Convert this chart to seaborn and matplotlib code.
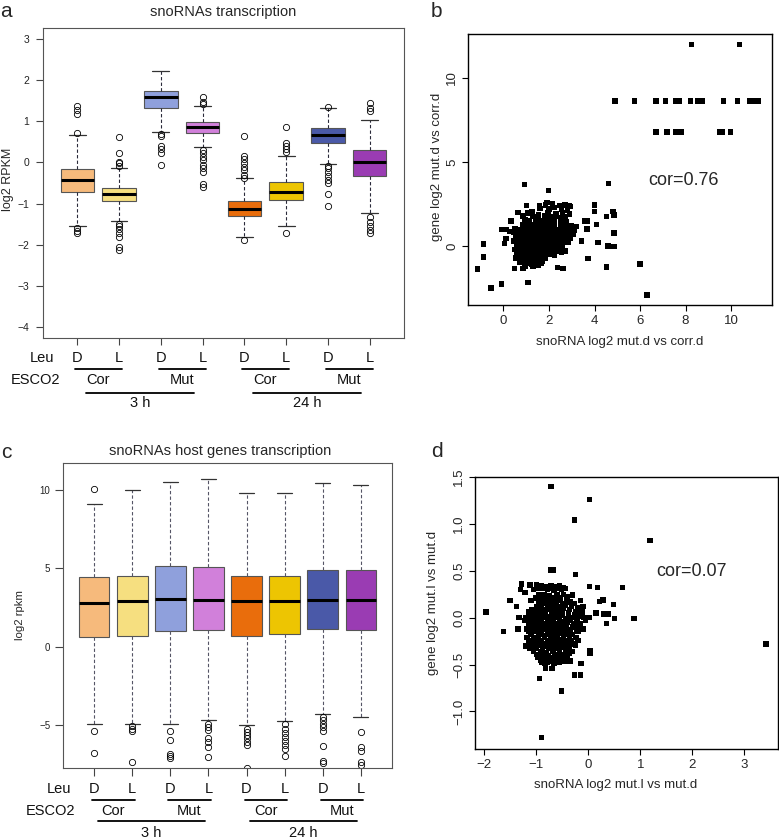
"""
snoRNA / host gene transcription figure (panels a-d).
Box plots are drawn from summary statistics read off the figure,
scatter panels from hand-read point positions.
"""
import matplotlib
matplotlib.use("Agg")
import matplotlib.pyplot as plt
import matplotlib.transforms as mtransforms
import seaborn as sns
import pandas as pd

sns.set_theme(style="ticks")
plt.rcParams["font.family"] = ["Liberation Sans", "DejaVu Sans"]

W, H = 779, 839

# ── shared box plot layout ──────────────────────────────────────────────
LEU = ["D", "L", "D", "L", "D", "L", "D", "L"]
ESCO2 = ["Cor", "Mut", "Cor", "Mut"]
TIMES = ["3 h", "24 h"]
BOX_COLORS = ["#F6BA7C", "#F6DF80", "#8FA0DC", "#D180DA",
              "#E96D0C", "#EDC502", "#4A59A8", "#9A3CB3"]

# ── panel a: snoRNAs transcription (log2 RPKM) ──────────────────────────
A_MED = [-0.43, -0.77, 1.59, 0.87, -1.13, -0.71, 0.67, 0.00]
A_Q1 = [-0.73, -0.94, 1.34, 0.73, -1.31, -0.91, 0.47, -0.34]
A_Q3 = [-0.17, -0.61, 1.74, 0.99, -0.93, -0.47, 0.83, 0.30]
A_WLO = [-1.55, -1.43, 0.75, 0.37, -1.82, -1.55, -0.03, -1.24]
A_WHI = [0.67, -0.13, 2.22, 1.37, -0.39, 0.16, 1.32, 1.03]
A_FLIERS = [
    [1.38, 1.29, 1.19, 0.73, -1.60, -1.66, -1.72],
    [0.63, 0.23, 0.02, -0.02, -0.08, -1.50, -1.56, -1.63, -1.71, -1.82, -2.05, -2.13],
    [0.69, 0.64, 0.40, 0.32, 0.22, -0.06],
    [1.59, 1.48, 1.42, 0.30, 0.22, 0.14, 0.06, -0.06, -0.14, -0.22, -0.52, -0.59],
    [0.65, 0.16, 0.08, -0.02, -0.10, -0.18, -0.30, -0.37, -1.90],
    [0.87, 0.47, 0.41, 0.34, 0.26, -1.72],
    [1.36, -0.08, -0.14, -0.22, -0.33, -0.43, -0.51, -0.77, -1.06],
    [1.46, 1.32, 1.26, -1.32, -1.44, -1.56, -1.65, -1.71],
]
A_YTICKS = [-4, -3, -2, -1, 0, 1, 2, 3]

# ── panel c: snoRNAs host genes transcription (log2 rpkm) ───────────────
C_MED = [2.79, 2.91, 3.02, 2.98, 2.89, 2.89, 2.94, 2.98]
C_Q1 = [0.64, 0.69, 1.00, 1.09, 0.71, 0.81, 1.13, 1.09]
C_Q3 = [4.44, 4.53, 5.14, 5.06, 4.53, 4.48, 4.89, 4.89]
C_WLO = [-4.90, -4.94, -4.94, -4.64, -5.00, -4.71, -4.30, -4.49]
C_WHI = [9.11, 9.96, 10.51, 10.65, 9.81, 9.79, 10.42, 10.32]
C_FLIERS = [
    [10.04, -5.38, -6.74],
    [-5.06, -5.21, -5.36, -7.31],
    [-5.38, -5.95, -6.80, -6.97, -7.10],
    [-4.94, -5.11, -5.32, -5.84, -6.06, -6.37, -7.01],
    [-5.21, -5.42, -5.64, -5.84, -6.06, -6.27, -7.70],
    [-4.94, -5.21, -5.49, -5.74, -6.00, -6.27, -6.49, -6.97],
    [-4.47, -4.68, -4.90, -5.11, -5.36, -6.33, -7.27, -7.39],
    [-5.42, -6.37, -6.62, -7.33, -7.54],
]
C_YTICKS = [-5, 0, 5, 10]

# ── panel b: snoRNA vs gene, mut.d vs corr.d ────────────────────────────
B_TOP = [(8.25, 12.0), (10.38, 12.0),
         (4.90, 8.63), (5.76, 8.63), (6.70, 8.63), (7.11, 8.63), (7.55, 8.63),
         (7.74, 8.63), (8.21, 8.63), (8.53, 8.63), (8.75, 8.63), (9.68, 8.63),
         (10.29, 8.63), (10.81, 8.63), (11.04, 8.63), (11.22, 8.63),
         (6.70, 6.79), (7.18, 6.79), (7.55, 6.79), (7.80, 6.79), (9.50, 6.79),
         (9.63, 6.79), (9.97, 6.79)]
B_SPREAD = [(0.93, 3.68), (1.98, 3.31), (4.61, 3.72), (6.30, -2.91), (6.00, -1.07),
            (4.52, -1.23), (3.71, -0.73), (-1.13, -1.36), (-0.87, 0.12), (-0.87, -0.64),
            (-0.55, -2.50), (-0.10, -2.26), (1.07, -2.18), (4.86, 0.79), (4.81, 2.06),
            (4.86, 1.86), (4.00, 2.45), (4.00, 2.06), (4.08, 1.27), (4.15, 0.20),
            (4.60, 0.00), (4.86, -0.04), (4.52, 1.76), (3.57, 1.50), (3.70, 1.50),
            (3.67, 1.01), (3.42, 0.31), (2.89, 2.40), (2.36, -1.27), (2.61, -1.33),
            (-0.10, 0.97), (0.11, 0.97), (0.26, 0.87), (0.04, 0.16), (0.11, 0.46),
            (0.33, 1.50), (0.63, 2.00), (1.07, 1.96), (1.00, 2.42), (1.58, 2.42),
            (1.92, 2.61), (0.48, -1.33), (0.85, -1.33), (0.70, -0.93), (1.22, -1.07),
            (1.66, -1.03), (1.48, -0.64), (2.54, -0.34)]
B_CLOUD = [
    (1.85, 2.45), (2.15, 2.50), (2.45, 2.40), (2.70, 2.45), (2.95, 2.35),
    (1.60, 2.25), (2.00, 2.20), (2.25, 2.30), (2.55, 2.20), (2.80, 2.15),
    (1.95, 2.00), (2.30, 1.95), (2.60, 2.00), (2.90, 1.90), (1.25, 2.05),
    (0.85, 1.80), (1.30, 1.75), (1.55, 1.85), (1.80, 1.80), (2.05, 1.75),
    (2.30, 1.80), (2.50, 1.70), (2.70, 1.75),
    (0.95, 1.55), (1.15, 1.50), (1.40, 1.55), (1.60, 1.50), (1.85, 1.55),
    (2.05, 1.50), (2.25, 1.55), (2.50, 1.50), (2.75, 1.45),
    (0.85, 1.30), (1.05, 1.30), (1.25, 1.25), (1.45, 1.30), (1.65, 1.30),
    (1.85, 1.25), (2.05, 1.30), (2.25, 1.30), (2.50, 1.25), (2.75, 1.30),
    (3.00, 1.20), (3.20, 1.15),
    (0.50, 1.05), (0.70, 1.00), (0.90, 1.05), (1.10, 1.05), (1.30, 1.00),
    (1.50, 1.05), (1.70, 1.05), (1.90, 1.00), (2.10, 1.05), (2.30, 1.00),
    (2.50, 1.05), (2.70, 1.00), (2.90, 1.05), (3.10, 0.95),
    (0.45, 0.80), (0.65, 0.80), (0.85, 0.75), (1.05, 0.80), (1.25, 0.80),
    (1.45, 0.75), (1.65, 0.80), (1.85, 0.80), (2.05, 0.75), (2.25, 0.80),
    (2.45, 0.80), (2.65, 0.75), (2.85, 0.75), (3.05, 0.70),
    (0.55, 0.55), (0.75, 0.55), (0.95, 0.50), (1.15, 0.55), (1.35, 0.55),
    (1.55, 0.50), (1.75, 0.55), (1.95, 0.55), (2.15, 0.50), (2.35, 0.55),
    (2.55, 0.50), (2.75, 0.50), (2.95, 0.45),
    (0.45, 0.30), (0.65, 0.30), (0.85, 0.25), (1.05, 0.30), (1.25, 0.30),
    (1.45, 0.25), (1.65, 0.30), (1.85, 0.30), (2.05, 0.25), (2.25, 0.30),
    (2.45, 0.20), (2.65, 0.25), (2.85, 0.20),
    (0.60, 0.05), (0.80, 0.05), (1.00, 0.00), (1.20, 0.05), (1.40, 0.05),
    (1.60, 0.00), (1.80, 0.05), (2.00, 0.05), (2.20, 0.00), (2.40, 0.00),
    (2.60, -0.05),
    (0.50, -0.20), (0.75, -0.20), (0.95, -0.25), (1.15, -0.20), (1.35, -0.20),
    (1.55, -0.25), (1.75, -0.20), (1.95, -0.20), (2.15, -0.25), (2.35, -0.30),
    (2.70, -0.30),
    (0.60, -0.45), (0.85, -0.45), (1.05, -0.50), (1.25, -0.45), (1.45, -0.45),
    (1.65, -0.50), (1.85, -0.45), (2.05, -0.50), (2.25, -0.55),
    (0.55, -0.70), (0.80, -0.70), (1.00, -0.75), (1.20, -0.70), (1.40, -0.70),
    (1.60, -0.75), (1.85, -0.70),
    (0.70, -0.95), (0.95, -0.95), (1.20, -1.00), (1.45, -0.95), (1.70, -0.90),
    (0.95, -1.20), (1.30, -1.20), (1.55, -1.15),
]
B_XTICKS = [0, 2, 4, 6, 8, 10]
B_YTICKS = [0, 5, 10]

# ── panel d: snoRNA vs gene, mut.l vs mut.d ─────────────────────────────
D_SPREAD = [(-0.72, 1.40), (0.02, 1.26), (-0.27, 1.04), (1.19, 0.82), (3.42, -0.28),
            (-1.97, 0.06), (-1.63, -0.15), (-0.90, -1.28), (-0.51, -0.78), (-0.94, -0.65),
            (-0.26, -0.61), (-0.15, -0.61), (0.88, -0.01), (0.66, 0.32), (-0.25, 0.46),
            (-0.72, 0.51), (-0.68, 0.51), (0.02, 0.33), (0.18, 0.32), (0.48, 0.14),
            (0.51, -0.01), (0.35, -0.06), (0.28, 0.19), (0.22, 0.17), (0.15, 0.05),
            (0.29, 0.04), (0.38, 0.04), (0.03, -0.35), (0.03, -0.38), (-0.14, -0.49),
            (-0.35, -0.46), (-0.83, -0.49), (-1.51, 0.18), (-1.38, 0.12), (-1.35, -0.12),
            (-1.33, 0.00), (-1.28, 0.36), (-1.31, 0.30), (-1.12, 0.35), (-1.22, 0.27),
            (-1.00, 0.35)]
D_CLOUD = [
    (-1.00, 0.34), (-0.90, 0.34), (-0.82, 0.33), (-0.72, 0.34), (-0.62, 0.33), (-0.55, 0.34),
    (-1.05, 0.30), (-0.78, 0.30), (-0.66, 0.29), (-0.52, 0.30), (-0.45, 0.31),
    (-0.95, 0.24), (-0.85, 0.24), (-0.75, 0.23), (-0.60, 0.24), (-0.48, 0.25), (-0.30, 0.24),
    (-1.10, 0.18), (-0.92, 0.18), (-0.80, 0.17), (-0.70, 0.18), (-0.58, 0.18),
    (-0.42, 0.19), (-0.35, 0.17), (-0.15, 0.18),
    (-1.00, 0.12), (-0.90, 0.12), (-0.78, 0.11), (-0.65, 0.12), (-0.55, 0.12),
    (-0.45, 0.13), (-0.32, 0.12), (-0.20, 0.11), (-0.10, 0.12),
    (-1.15, 0.06), (-1.02, 0.06), (-0.92, 0.05), (-0.82, 0.06), (-0.70, 0.06),
    (-0.60, 0.07), (-0.50, 0.06), (-0.38, 0.05), (-0.25, 0.06), (-0.12, 0.06),
    (-1.20, 0.00), (-1.08, 0.00), (-0.98, -0.01), (-0.88, 0.00), (-0.76, 0.01),
    (-0.66, 0.00), (-0.56, 0.00), (-0.44, -0.01), (-0.32, 0.00), (-0.20, 0.01),
    (-0.08, 0.00), (0.02, 0.00),
    (-1.15, -0.06), (-1.05, -0.06), (-0.95, -0.05), (-0.85, -0.06), (-0.72, -0.07),
    (-0.62, -0.06), (-0.50, -0.06), (-0.40, -0.05), (-0.28, -0.06), (-0.15, -0.06),
    (-1.18, -0.12), (-1.00, -0.12), (-0.90, -0.13), (-0.80, -0.12), (-0.68, -0.12),
    (-0.58, -0.11), (-0.46, -0.12), (-0.35, -0.13), (-0.22, -0.12), (-0.10, -0.12),
    (-1.10, -0.18), (-0.95, -0.18), (-0.84, -0.19), (-0.74, -0.18), (-0.62, -0.18),
    (-0.50, -0.17), (-0.40, -0.18), (-0.30, -0.18),
    (-1.15, -0.24), (-1.02, -0.24), (-0.90, -0.25), (-0.78, -0.24), (-0.66, -0.24),
    (-0.55, -0.23), (-0.44, -0.24), (-0.32, -0.25), (-0.20, -0.24),
    (-1.20, -0.30), (-1.08, -0.30), (-0.96, -0.29), (-0.85, -0.30), (-0.72, -0.30),
    (-0.60, -0.31), (-0.48, -0.30), (-0.36, -0.30), (-0.25, -0.29),
    (-1.05, -0.36), (-0.92, -0.36), (-0.80, -0.37), (-0.68, -0.36), (-0.56, -0.36),
    (-0.44, -0.35), (-0.30, -0.36),
    (-0.98, -0.42), (-0.86, -0.42), (-0.75, -0.43), (-0.64, -0.42), (-0.52, -0.42),
    (-0.40, -0.41),
    (-0.90, -0.48), (-0.78, -0.48), (-0.66, -0.49), (-0.55, -0.48), (-0.45, -0.47),
    (-0.82, -0.54), (-0.70, -0.54),
]
D_CORE = [
    (-0.95, 0.31), (-0.85, 0.31), (-0.70, 0.31), (-0.58, 0.31), (-0.48, 0.32),
    (-1.02, 0.21), (-0.88, 0.21), (-0.78, 0.20), (-0.66, 0.21), (-0.54, 0.21), (-0.40, 0.22),
    (-0.96, 0.15), (-0.85, 0.15), (-0.74, 0.14), (-0.62, 0.15), (-0.50, 0.15),
    (-0.40, 0.16), (-0.26, 0.15),
    (-1.08, 0.09), (-0.96, 0.09), (-0.86, 0.08), (-0.72, 0.09), (-0.60, 0.09),
    (-0.48, 0.10), (-0.36, 0.09), (-0.15, 0.09),
    (-1.12, 0.03), (-1.02, 0.03), (-0.92, 0.02), (-0.82, 0.03), (-0.70, 0.03),
    (-0.60, 0.04), (-0.50, 0.03), (-0.38, 0.02), (-0.26, 0.03), (-0.14, 0.03),
    (-1.22, -0.03), (-1.10, -0.03), (-1.00, -0.04), (-0.90, -0.03), (-0.78, -0.03),
    (-0.68, -0.02), (-0.56, -0.03), (-0.46, -0.04), (-0.34, -0.03), (-0.22, -0.03),
    (-0.05, -0.03),
    (-1.10, -0.09), (-0.96, -0.09), (-0.86, -0.10), (-0.74, -0.09), (-0.64, -0.09),
    (-0.52, -0.08), (-0.42, -0.09), (-0.30, -0.10), (-0.18, -0.09),
    (-1.14, -0.15), (-1.04, -0.15), (-0.90, -0.16), (-0.78, -0.15), (-0.66, -0.15),
    (-0.56, -0.14), (-0.44, -0.15), (-0.34, -0.16), (-0.20, -0.15),
    (-1.18, -0.21), (-1.06, -0.21), (-0.96, -0.22), (-0.84, -0.21), (-0.72, -0.21),
    (-0.60, -0.20), (-0.48, -0.21), (-0.36, -0.22), (-0.24, -0.21),
    (-1.10, -0.27), (-0.98, -0.27), (-0.86, -0.28), (-0.74, -0.27), (-0.62, -0.27),
    (-0.52, -0.26), (-0.40, -0.27), (-0.28, -0.28),
    (-1.12, -0.33), (-1.00, -0.33), (-0.88, -0.34), (-0.76, -0.33), (-0.64, -0.33),
    (-0.52, -0.32), (-0.40, -0.33),
    (-1.00, -0.39), (-0.88, -0.39), (-0.76, -0.40), (-0.62, -0.39), (-0.50, -0.39),
    (-0.36, -0.38),
    (-0.92, -0.45), (-0.80, -0.45), (-0.70, -0.46), (-0.58, -0.45), (-0.48, -0.44),
]
D_XTICKS = [-2, -1, 0, 1, 2, 3]
D_YTICKS = [-1.0, -0.5, 0.0, 0.5, 1.0, 1.5]

POS = list(range(1, len(LEU) + 1))


def px_rect(left, top, right, bottom):
    return [left / W, 1 - bottom / H, (right - left) / W, (bottom - top) / H]


def fy(py):
    return 1 - py / H


def minus(v, fmt):
    return fmt.format(v).replace("-", "\u2212")


def draw_boxes(ax, med, q1, q3, wlo, whi, fliers, wcol):
    stats = [dict(med=m, q1=a, q3=b, whislo=lo, whishi=hi, fliers=f)
             for m, a, b, lo, hi, f in zip(med, q1, q3, wlo, whi, fliers)]
    art = ax.bxp(
        stats, positions=POS, widths=0.8, patch_artist=True,
        boxprops=dict(edgecolor="#555555", linewidth=0.8),
        medianprops=dict(color="black", linewidth=2.2),
        whiskerprops=dict(color=wcol, linewidth=0.8, linestyle=(0, (3, 2))),
        capprops=dict(color="#333333", linewidth=0.9),
        flierprops=dict(marker="o", markerfacecolor="none", markeredgecolor="black",
                        markersize=4.5, markeredgewidth=0.6),
    )
    for patch, col in zip(art["boxes"], BOX_COLORS):
        patch.set_facecolor(col)


def group_labels(fig, ax, rows, leu_x, esco_x, time_half):
    y_leu, y_pair, y_esco, y_time, y_hour = [fy(r) for r in rows]
    tr = mtransforms.blended_transform_factory(ax.transData, fig.transFigure)
    kw = dict(ha="center", va="center", fontsize=10.5, color="#111111")
    fig.text(leu_x / W, y_leu, "Leu", **kw)
    fig.text(esco_x / W, y_esco, "ESCO2", **kw)
    for x, lab in zip(POS, LEU):
        ax.text(x, y_leu, lab, transform=tr, **kw)
    for k, lab in enumerate(ESCO2):
        d, l = POS[2 * k], POS[2 * k + 1]
        ax.plot([d - 0.05, l + 0.07], [y_pair, y_pair], transform=tr,
                color="black", lw=1.3, clip_on=False)
        ax.text((d + l) / 2, y_esco, lab, transform=tr, **kw)
    for k, lab in enumerate(TIMES):
        mid = (POS[4 * k] + POS[4 * k + 3]) / 2
        ax.plot([mid - time_half, mid + time_half], [y_time, y_time], transform=tr,
                color="black", lw=1.3, clip_on=False)
        ax.text(mid, y_hour, lab, transform=tr, **kw)


def style_box_axes(ax, yticks, ylim, labelsize, pad, ticklen):
    ax.set_xlim(0.18, 8.82)
    ax.set_ylim(*ylim)
    ax.set_xticks(POS)
    ax.set_xticklabels([])
    ax.set_yticks(yticks)
    ax.set_yticklabels([minus(v, "{:d}") for v in yticks])
    ax.tick_params(axis="both", direction="out", length=ticklen, width=0.8,
                   color="#444444", labelsize=labelsize, pad=pad, labelcolor="#222222")
    for sp in ax.spines.values():
        sp.set_visible(True)
        sp.set_color("#555555")
        sp.set_linewidth(0.8)


def scatter_panel(ax, pts, xlim, ylim, xticks, yticks, ylabels):
    df = pd.DataFrame(pts, columns=["sno", "gene"])
    sns.scatterplot(data=df, x="sno", y="gene", marker="s", s=15, color="black",
                    linewidth=0, edgecolor="none", ax=ax, legend=False)
    ax.set_xlabel("")
    ax.set_ylabel("")
    ax.set_xlim(*xlim)
    ax.set_ylim(*ylim)
    ax.set_xticks(xticks)
    ax.set_xticklabels([minus(v, "{:d}") for v in xticks])
    ax.set_yticks(yticks)
    ax.set_yticklabels(ylabels)
    ax.tick_params(axis="both", direction="out", length=4.5, width=0.8,
                   color="black", labelsize=9.5, pad=2.5)
    ax.tick_params(axis="y", labelrotation=90)
    for lab in ax.get_yticklabels():
        lab.set_va("center")
    for sp in ax.spines.values():
        sp.set_visible(True)
        sp.set_color("black")
        sp.set_linewidth(1.0)


fig = plt.figure(figsize=(W / 100, H / 100), dpi=100)

# ── a ──
ax_a = fig.add_axes(px_rect(43, 28, 404, 338))
draw_boxes(ax_a, A_MED, A_Q1, A_Q3, A_WLO, A_WHI, A_FLIERS, "#2a2a3a")
style_box_axes(ax_a, A_YTICKS, (-4.28, 3.28), 7.5, 5, 5)
group_labels(fig, ax_a, (358, 369, 380, 393, 403), 42, 35, 1.3)
fig.text(223 / W, fy(16), "snoRNAs transcription", ha="center", va="baseline", fontsize=10.5)
fig.text(8 / W, fy(179), "log2 RPKM", rotation=90, ha="center", va="center", fontsize=9)

# ── c ──
ax_c = fig.add_axes(px_rect(63, 463, 392, 768))
draw_boxes(ax_c, C_MED, C_Q1, C_Q3, C_WLO, C_WHI, C_FLIERS, "#555566")
style_box_axes(ax_c, C_YTICKS, (-7.72, 11.69), 7, 3.6, 5.5)
group_labels(fig, ax_c, (789, 800, 811, 821, 833), 58.7, 50.5, 1.4)
fig.text(220 / W, fy(455), "snoRNAs host genes transcription", ha="center", va="baseline",
         fontsize=10.5)
fig.text(20 / W, fy(615), "log2 rpkm", rotation=90, ha="center", va="center", fontsize=8.2)

# ── b ──
ax_b = fig.add_axes(px_rect(468, 34, 772, 305))
scatter_panel(ax_b, B_TOP + B_SPREAD + B_CLOUD, (-1.56, 11.8), (-3.5, 12.61),
              B_XTICKS, B_YTICKS, [str(v) for v in B_YTICKS])
ax_b.text(7.89, 3.92, "cor=0.76", ha="center", va="center", fontsize=13)
fig.text(620 / W, fy(341.7), "snoRNA log2 mut.d vs corr.d", ha="center", va="center", fontsize=9.5)
fig.text(436.7 / W, fy(166.7), "gene log2 mut.d vs corr.d", rotation=90,
         ha="center", va="center", fontsize=9.5)

# ── d ──
ax_d = fig.add_axes(px_rect(475, 477, 778, 749))
scatter_panel(ax_d, D_SPREAD + D_CLOUD + D_CORE, (-2.18, 3.65), (-1.40, 1.50),
              D_XTICKS, D_YTICKS, [minus(v, "{:.1f}") for v in D_YTICKS])
ax_d.text(1.99, 0.49, "cor=0.07", ha="center", va="center", fontsize=13)
fig.text(615.7 / W, fy(785), "snoRNA log2 mut.l vs mut.d", ha="center", va="center", fontsize=9.5)
fig.text(433.3 / W, fy(602.5), "gene log2 mut.l vs mut.d", rotation=90,
         ha="center", va="center", fontsize=9.5)

# panel letters
for letter, (px, py) in zip("abcd", [(5.5, 16.7), (436.7, 16.7), (6, 457.7), (436.7, 457.3)]):
    fig.text(px / W, fy(py), letter, ha="center", va="baseline", fontsize=15)

fig.savefig("out.png", dpi=100)
